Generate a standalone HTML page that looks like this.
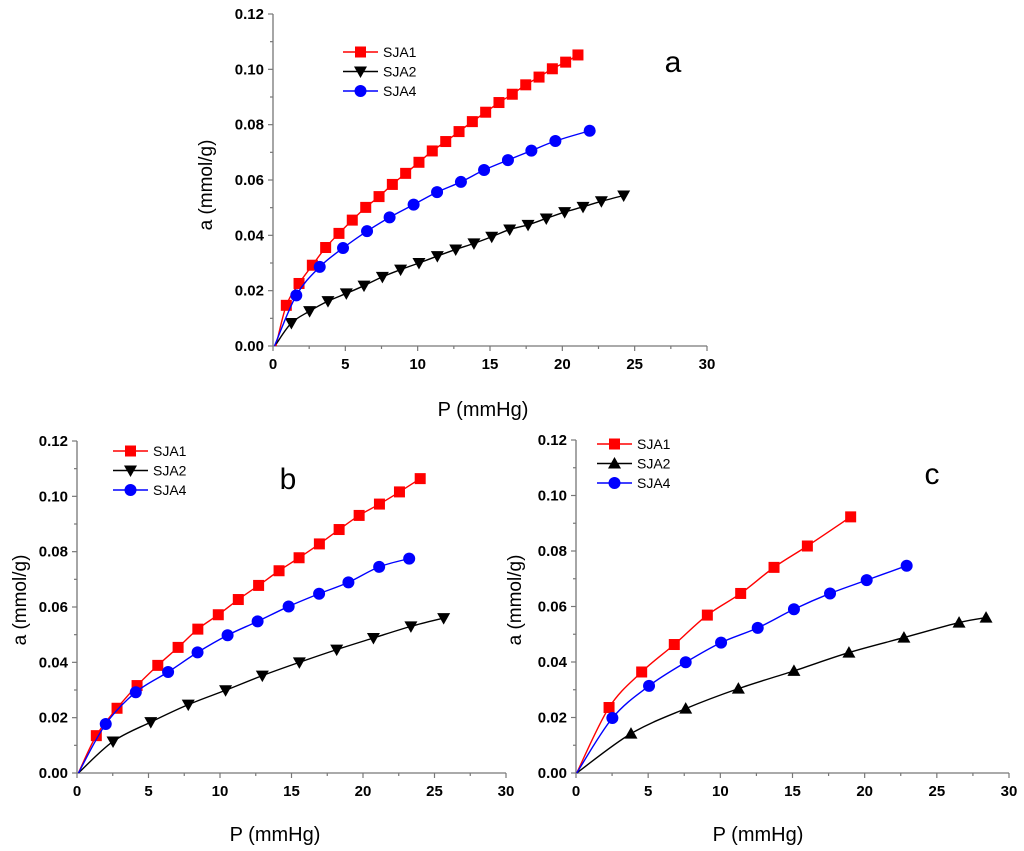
<!DOCTYPE html>
<html><head><meta charset="utf-8"><style>
body{margin:0;background:#fff;}
svg{display:block;font-family:"Liberation Sans",Arial,sans-serif;}
</style></head><body>
<svg id="chart" width="1024" height="851" viewBox="0 0 1024 851" xmlns="http://www.w3.org/2000/svg"></svg>
<script>
// Panel a data
const aSJA1x=[0.2,0.92,1.8,2.72,3.64,4.56,5.48,6.41,7.33,8.25,9.17,10.09,11.01,11.94,12.86,13.78,14.7,15.62,16.54,17.47,18.39,19.31,20.23,21.08];
const aSJA1y=[0,0.0147,0.0226,0.0292,0.0356,0.0407,0.0455,0.0501,0.054,0.0584,0.0624,0.0664,0.0705,0.0739,0.0775,0.0811,0.0845,0.088,0.091,0.0944,0.0972,0.1002,0.1026,0.1052];
const aSJA2x=[0.23,1.27,2.53,3.8,5.07,6.29,7.56,8.82,10.09,11.36,12.63,13.89,15.12,16.36,17.63,18.89,20.16,21.43,22.7,24.24];
const aSJA2y=[0.0008,0.0083,0.0126,0.0162,0.019,0.0218,0.025,0.0276,0.030,0.0325,0.0349,0.0371,0.0395,0.0421,0.0438,0.0461,0.0484,0.0503,0.0523,0.0544];
const aSJA4x=[0.1,1.61,3.23,4.84,6.5,8.06,9.72,11.34,12.99,14.59,16.24,17.86,19.52,21.89];
const aSJA4y=[0,0.0183,0.0286,0.0354,0.0415,0.0465,0.0511,0.0556,0.0593,0.0636,0.0672,0.0706,0.0741,0.0778];
// Panel b data
const bSJA1x=[0.1,1.35,2.8,4.2,5.65,7.07,8.45,9.88,11.28,12.7,14.13,15.53,16.95,18.33,19.73,21.15,22.55,24.0];
const bSJA1y=[0,0.0135,0.0234,0.0316,0.0389,0.0454,0.052,0.0572,0.0627,0.0678,0.0731,0.0778,0.0828,0.088,0.0931,0.0972,0.1016,0.1064];
const bSJA2x=[0.1,2.52,5.16,7.78,10.39,12.96,15.55,18.16,20.73,23.35,25.64];
const bSJA2y=[0,0.0114,0.0184,0.0247,0.0299,0.0352,0.04,0.0446,0.0488,0.053,0.056];
const bSJA4x=[0.1,2.01,4.11,6.37,8.43,10.53,12.63,14.8,16.93,18.98,21.13,23.23];
const bSJA4y=[0,0.0177,0.0292,0.0365,0.0436,0.0498,0.0548,0.0602,0.0648,0.0689,0.0745,0.0775];
// Panel c data
const cSJA1x=[0.05,2.29,4.55,6.81,9.1,11.41,13.72,16.03,19.03];
const cSJA1y=[0,0.0236,0.0364,0.0463,0.0569,0.0647,0.0741,0.0818,0.0923];
const cSJA2x=[0.05,3.81,7.6,11.25,15.1,18.91,22.72,26.54,28.41];
const cSJA2y=[0,0.0142,0.0232,0.0304,0.0368,0.0434,0.0488,0.0542,0.056];
const cSJA4x=[0.05,2.52,5.06,7.6,10.05,12.59,15.1,17.6,20.14,22.91];
const cSJA4y=[0,0.0198,0.0314,0.0399,0.047,0.0523,0.059,0.0647,0.0695,0.0747];
const xTicks=[0,5,10,15,20,25,30];
const yTicks=[0,0.02,0.04,0.06,0.08,0.10,0.12];
const seriesNames=["SJA1","SJA2","SJA4"];

const NS="http://www.w3.org/2000/svg";
const svg=document.getElementById('chart');
function el(tag,attrs,parent){const e=document.createElementNS(NS,tag);for(const k in attrs)e.setAttribute(k,attrs[k]);(parent||svg).appendChild(e);return e;}

const panels=[
 {id:'a',x0:273,x1:707,y0:346,y1:14,data:[[aSJA1x,aSJA1y],[aSJA2x,aSJA2y],[aSJA4x,aSJA4y]],tri:'down',leg:[343,378,52],lab:[673,72],ytx:212,yty:185,xtx:483,xty:416},
 {id:'b',x0:77,x1:506,y0:773,y1:441,data:[[bSJA1x,bSJA1y],[bSJA2x,bSJA2y],[bSJA4x,bSJA4y]],tri:'down',leg:[113,148,451],lab:[288,489],ytx:26,yty:600,xtx:275,xty:841},
 {id:'c',x0:576,x1:1009,y0:773,y1:440,data:[[cSJA1x,cSJA1y],[cSJA2x,cSJA2y],[cSJA4x,cSJA4y]],tri:'up',leg:[597,632,444],lab:[932,484],ytx:521,yty:600,xtx:758,xty:841}
];
const colors=['#ff0000','#000000','#0000ff'];

function smooth(pts){
 let d='M'+pts[0][0]+','+pts[0][1];
 for(let i=0;i<pts.length-1;i++){
  const p0=pts[Math.max(0,i-1)],p1=pts[i],p2=pts[i+1],p3=pts[Math.min(pts.length-1,i+2)];
  const c1=[p1[0]+(p2[0]-p0[0])/6,p1[1]+(p2[1]-p0[1])/6];
  const c2=[p2[0]-(p3[0]-p1[0])/6,p2[1]-(p3[1]-p1[1])/6];
  d+=' C'+c1[0]+','+c1[1]+' '+c2[0]+','+c2[1]+' '+p2[0]+','+p2[1];
 }
 return d;
}
function marker(g,k,x,y,tri){
 const c=colors[k];
 if(k===0){const m=el('rect',{x:x-5.5,y:y-5.5,width:11,height:11,fill:c},g);}
 else if(k===1){
  const p=tri==='down'?`${x-6.5},${y-5} ${x+6.5},${y-5} ${x},${y+6.5}`:`${x-6.5},${y+5} ${x+6.5},${y+5} ${x},${y-6.5}`;
  const m=el('polygon',{points:p,fill:c},g);}
 else {const m=el('circle',{cx:x,cy:y,r:6,fill:c},g);}
}

panels.forEach(P=>{
 const g=el('g',{});
 
 
 const sx=v=>P.x0+(P.x1-P.x0)*v/30;
 const sy=v=>P.y0+(P.y1-P.y0)*v/0.12;
 // axes
 const ax=el('path',{d:`M${P.x0},${P.y1} V${P.y0} H${P.x1}`,stroke:'#777',fill:'none','stroke-width':1.3},g);
 
 
 for(let v=0;v<=30.01;v+=2.5){const X=sx(v);el('line',{x1:X,x2:X,y1:P.y0,y2:P.y0+(v%5===0?5:3),stroke:'#777','stroke-width':1.2},g);}
 for(let v=0;v<=0.1201;v+=0.01){const Y=sy(v);const maj=Math.round(v*100)%2===0;el('line',{x1:P.x0,x2:P.x0-(maj?5:3),y1:Y,y2:Y,stroke:'#777','stroke-width':1.2},g);}
 xTicks.forEach(t=>{const e=el('text',{x:sx(t),y:P.y0+23,'text-anchor':'middle','font-size':15,'font-weight':'bold'},g);e.textContent=t;});
 yTicks.forEach(t=>{const e=el('text',{x:P.x0-9,y:sy(t)+5,'text-anchor':'end','font-size':15,'font-weight':'bold'},g);e.textContent=t.toFixed(2);});
 const yt=el('text',{x:0,y:0,transform:`translate(${P.ytx},${P.yty}) rotate(-90)`,'text-anchor':'middle','font-size':19},g);
 yt.textContent='a (mmol/g)';
 
 
 const xt=el('text',{x:P.xtx,y:P.xty,'text-anchor':'middle','font-size':20},g);
 xt.textContent='P (mmHg)';
 
 
 const lb=el('text',{x:P.lab[0],y:P.lab[1],'text-anchor':'middle','font-size':30},g);
 lb.textContent=P.id;
 
 
 P.data.forEach((s,k)=>{
  const pts=s[0].map((x,i)=>[sx(x),sy(s[1][i])]);
  const ln=el('path',{d:smooth(pts),stroke:colors[k],fill:'none','stroke-width':1.4},g);
  
  
  pts.forEach((p,i)=>{if(i>0)marker(g,k,p[0],p[1],P.tri);});
  const ly=P.leg[2]+k*19.5;
  const le=el('line',{x1:P.leg[0],x2:P.leg[1],y1:ly,y2:ly,stroke:colors[k],'stroke-width':1.4},g);
  
  
  marker(g,k,(P.leg[0]+P.leg[1])/2,ly,P.tri);
  const lt=el('text',{x:P.leg[1]+5,y:ly+5,'font-size':14},g);
  lt.textContent=seriesNames[k];
  
  
 });
});
</script>
</body></html>
